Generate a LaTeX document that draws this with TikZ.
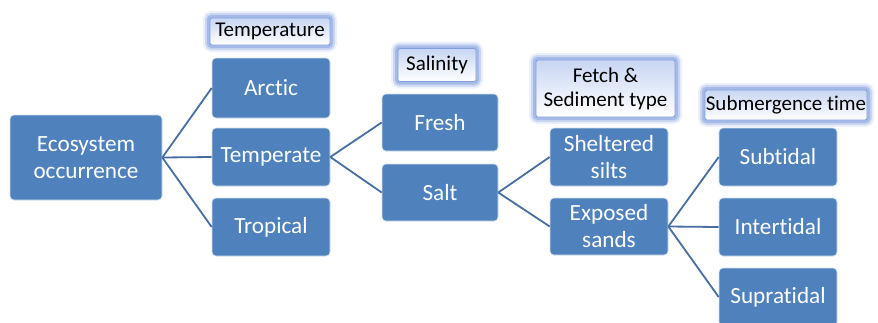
\documentclass[tikz,border=0pt]{standalone}
\usepackage{fontspec}
\setmainfont[Ligatures={NoCommon}]{Carlito}
\definecolor{boxblue}{RGB}{79,129,189}
\definecolor{linec}{RGB}{72,110,162}
\definecolor{glowc}{RGB}{130,158,222}
\definecolor{lbltop}{RGB}{200,214,243}
\tikzset{
  cat/.style={rectangle, rounded corners=4pt, fill=boxblue, draw=white!75!boxblue, line width=0.6pt,
    text=white, font=\fontsize{23.2}{27}\selectfont, align=center, inner sep=0pt,
    minimum width=118pt, minimum height=58pt},
  lbl/.style={rectangle, rounded corners=2pt, top color=lbltop, bottom color=white,
    draw=glowc, line width=0.8pt, text=black, font=\fontsize{21}{24}\selectfont, align=center, inner sep=0pt,
    preaction={draw=glowc, line width=14pt, opacity=0.15, rounded corners=6pt},
    preaction={draw=glowc, line width=10pt, opacity=0.3, rounded corners=5pt},
    preaction={draw=glowc, line width=6pt, opacity=0.5, rounded corners=3pt}},
  conn/.style={draw=linec, line width=1.8pt}
}
\begin{document}
\begin{tikzpicture}[x=1pt,y=-1pt]
\clip (0,0) rectangle (878,322);
\fill[white] (0,0) rectangle (878,322);
% labels
\node[lbl, minimum width=120pt, minimum height=27pt] (lt) at (270,31.5) {Temperature};
\node[lbl, minimum width=78pt, minimum height=33pt] (ls) at (437,65) {Salinity};
\node[lbl, minimum width=139pt, minimum height=57pt] (lf) at (605.5,88.5) {Fetch \&\\Sediment type};
\node[lbl, minimum width=162pt, minimum height=30pt] (lm) at (786,105) {Submergence time};
% boxes
\node[cat, minimum width=152pt, minimum height=85pt] (eco) at (86,157.5) {Ecosystem\\occurrence};
\node[cat, minimum height=60pt] (arc) at (271,88) {Arctic};
\node[cat] (tem) at (271,157) {Temperate};
\node[cat] (tro) at (271,227) {Tropical};
\node[cat, minimum width=116pt, minimum height=57pt] (fre) at (440,122.5) {Fresh};
\node[cat, minimum width=116pt, minimum height=57pt] (sal) at (440,192.5) {Salt};
\node[cat] (she) at (609,157) {Sheltered\\silts};
\node[cat, minimum height=57pt] (exp) at (609,226.5) {Exposed\\sands};
\node[cat] (sub) at (778,157) {Subtidal};
\node[cat] (int) at (778,227) {Intertidal};
\node[cat] (sup) at (778,297) {Supratidal};
% connectors
\draw[conn] (eco.east) -- (arc.west);
\draw[conn] (eco.east) -- (tem.west);
\draw[conn] (eco.east) -- (tro.west);
\draw[conn] (tem.east) -- (fre.west);
\draw[conn] (tem.east) -- (sal.west);
\draw[conn] (sal.east) -- (she.west);
\draw[conn] (sal.east) -- (exp.west);
\draw[conn] (exp.east) -- (sub.west);
\draw[conn] (exp.east) -- (int.west);
\draw[conn] (exp.east) -- (sup.west);
\end{tikzpicture}
\end{document}
